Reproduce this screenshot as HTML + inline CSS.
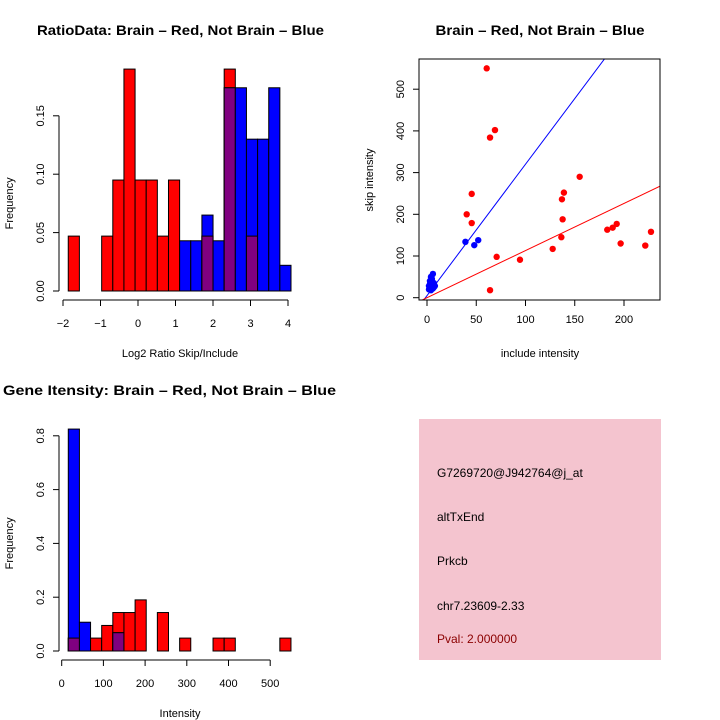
<!DOCTYPE html>
<html><head><meta charset="utf-8"><style>
body{margin:0;background:#fff}
svg{display:block;font-family:"Liberation Sans",sans-serif}
</style></head><body>
<svg id="s" width="720" height="720" viewBox="0 0 720 720">
<rect width="720" height="720" fill="#fff"/>
<g id="p1"></g>
<g id="p2"></g>
<g id="p3"></g>
<g id="p4">
<rect x="419" y="419" width="242" height="241" fill="#f4c4cf"/>
<text x="437" y="477" font-size="12">G7269720@J942764@j_at</text>
<text x="437" y="521" font-size="12">altTxEnd</text>
<text x="437" y="565" font-size="12">Prkcb</text>
<text x="437" y="610" font-size="12">chr7.23609-2.33</text>
<text x="437" y="643" font-size="12" fill="#8b0000">Pval: 2.000000</text>
</g>
</svg>
<script>
// ---- Data ----
const ratioRed  = [0.047,0,0,0.047,0.095,0.19,0.095,0.095,0.047,0.095,0,0,0.047,0,0.19,0,0.047,0,0,0];
const ratioBlue = [0,0,0,0,0,0,0,0,0,0,0.043,0.043,0.065,0.043,0.174,0.174,0.13,0.13,0.174,0.022];
const ratioBinStart = -1.86, ratioBinWidth = 0.297;
const ratioXTicks = [-2,-1,0,1,2,3,4];
const ratioYTicks = [0,0.05,0.10,0.15];
const ratioYLabels = ["0.00","0.05","0.10","0.15"];

const intRed  = [0.048,0,0.048,0.095,0.143,0.143,0.19,0,0.143,0,0.048,0,0,0.048,0.048,0,0,0,0,0.048];
const intBlue = [0.825,0.107,0,0,0.068,0,0,0,0,0,0,0,0,0,0,0,0,0,0,0];
const intBinStart = 15.8, intBinWidth = 26.7;
const intXTicks = [0,100,200,300,400,500];
const intYTicks = [0,0.2,0.4,0.6,0.8];
const intYLabels = ["0.0","0.2","0.4","0.6","0.8"];

const redX = [60.6,64,69,45.4,40.3,45.4,70.7,94.4,64,127.6,136.4,137.7,137,139,155,183,188.5,192.6,196.6,221.6,227.4];
const redY = [550,384,402,249,200,179,98,91,18,117,145,188,236,252,290,163,168,177,130,125,158];
const blueX = [39,48,52,4,6,3,5,2,7,4,8,3,6,5,7,2,4];
const blueY = [134,126,138,50,57,40,30,20,25,18,28,33,22,45,35,28,24];
const blueFit = [5,3.15];  // intercept, slope
const redFit = [0,1.13];
const scXTicks = [0,50,100,150,200];
const scYTicks = [0,100,200,300,400,500];

const NS="http://www.w3.org/2000/svg";
function mk(parent,tag,attrs){const e=document.createElementNS(NS,tag);for(const k in attrs)e.setAttribute(k,attrs[k]);parent.appendChild(e);return e;}
function txt(parent,x,y,s,size,extra){const e=mk(parent,'text',Object.assign({x:x,y:y,'font-size':size,'text-anchor':'middle'},extra||{}));e.textContent=s;return e;}

function histogram(g,red,blue,binStart,binW,xs,ys,xTicks,yTicks,yLabels,axisY,xLab,title,titleX,titleY,titleLen){
  for(let i=0;i<red.length;i++){
    const a=xs(binStart+i*binW), b=xs(binStart+(i+1)*binW);
    const layers=[[red[i],'#ff0000','red'],[blue[i],'#0000ff','blue'],[Math.min(red[i],blue[i]),'#800080','overlap']];
    for(const [v,c,n] of layers){
      if(v<=0) continue;
      const r=mk(g,'rect',{x:a,y:ys(v),width:b-a,height:ys(0)-ys(v),fill:c,stroke:'#000','stroke-width':1});
      
      
    }
  }
  mk(g,'line',{x1:59,x2:59,y1:ys(yTicks[0]),y2:ys(yTicks[yTicks.length-1]),stroke:'#000'});
  yTicks.forEach((t,i)=>{mk(g,'line',{x1:53,x2:59,y1:ys(t),y2:ys(t),stroke:'#000'});
    const e=txt(g,0,0,yLabels[i],11,{transform:`translate(44,${ys(t)}) rotate(-90)`});
    
    });
  mk(g,'line',{x1:xs(xTicks[0]),x2:xs(xTicks[xTicks.length-1]),y1:axisY,y2:axisY,stroke:'#000'});
  xTicks.forEach(t=>{mk(g,'line',{x1:xs(t),x2:xs(t),y1:axisY,y2:axisY+6,stroke:'#000'});
    const e=txt(g,xs(t),axisY+27,String(t).replace('-','\u2212'),11);
    
    });
  const yt=txt(g,0,0,'Frequency',11,{transform:`translate(13,${(ys(0)+ys(yTicks[yTicks.length-1]))/2}) rotate(-90)`});
  
  
  const xt=txt(g,180,axisY+57,xLab,11);
  
  
  const tt=txt(g,titleX,titleY,title,14,{'font-weight':'bold',textLength:titleLen,lengthAdjust:'spacingAndGlyphs'});
  
  
}

// Plot 1
{
  const xs=v=>63+(v+2)*37.5, ys=v=>291-v*(58.4/0.05);
  histogram(document.getElementById('p1'),ratioRed,ratioBlue,ratioBinStart,ratioBinWidth,xs,ys,ratioXTicks,ratioYTicks,ratioYLabels,300,'Log2 Ratio Skip/Include','RatioData: Brain \u2013 Red, Not Brain \u2013 Blue',180.5,35,287);
}
// Plot 3
{
  const xs=v=>61.7+v*0.417, ys=v=>651-v*(53.8/0.2);
  histogram(document.getElementById('p3'),intRed,intBlue,intBinStart,intBinWidth,xs,ys,intXTicks,intYTicks,intYLabels,660,'Intensity','Gene Itensity: Brain \u2013 Red, Not Brain \u2013 Blue',169.5,395,333);
}
// Plot 2
{
  const g=document.getElementById('p2');
  const xs=v=>427+v*0.985, ys=v=>297.7-v*0.417;
  const clip=mk(g,'clipPath',{id:'c2'});mk(clip,'rect',{x:419,y:59,width:241,height:241});
  const L=mk(g,'g',{'clip-path':'url(#c2)'});
  [[blueFit,'#0000ff','blue-fit-line'],[redFit,'#ff0000','red-fit-line']].forEach(([f,c,n])=>{
    const ln=mk(L,'line',{x1:xs(-10),y1:ys(f[0]+f[1]*-10),x2:xs(240),y2:ys(f[0]+f[1]*240),stroke:c,'stroke-width':1});
    
    
  });
  redX.forEach((x,i)=>{const c=mk(g,'circle',{cx:xs(x),cy:ys(redY[i]),r:3.2,fill:'#ff0000'});
    
    });
  blueX.forEach((x,i)=>{const c=mk(g,'circle',{cx:xs(x),cy:ys(blueY[i]),r:3.2,fill:'#0000ff'});
    
    });
  mk(g,'rect',{x:419,y:59,width:241,height:241,fill:'none',stroke:'#000'});
  scXTicks.forEach(t=>{mk(g,'line',{x1:xs(t),x2:xs(t),y1:300,y2:306,stroke:'#000'});
    const e=txt(g,xs(t),323,String(t),11);
    
    });
  scYTicks.forEach(t=>{mk(g,'line',{x1:413,x2:419,y1:ys(t),y2:ys(t),stroke:'#000'});
    const e=txt(g,0,0,String(t),11,{transform:`translate(404,${ys(t)}) rotate(-90)`});
    
    });
  const yt=txt(g,0,0,'skip intensity',11,{transform:'translate(373,180) rotate(-90)'});
  
  
  const xt=txt(g,540,357,'include intensity',11);
  
  
  const tt=txt(g,540,35,'Brain \u2013 Red, Not Brain \u2013 Blue',14,{'font-weight':'bold',textLength:209,lengthAdjust:'spacingAndGlyphs'});
  
  
}
</script>
</body></html>
